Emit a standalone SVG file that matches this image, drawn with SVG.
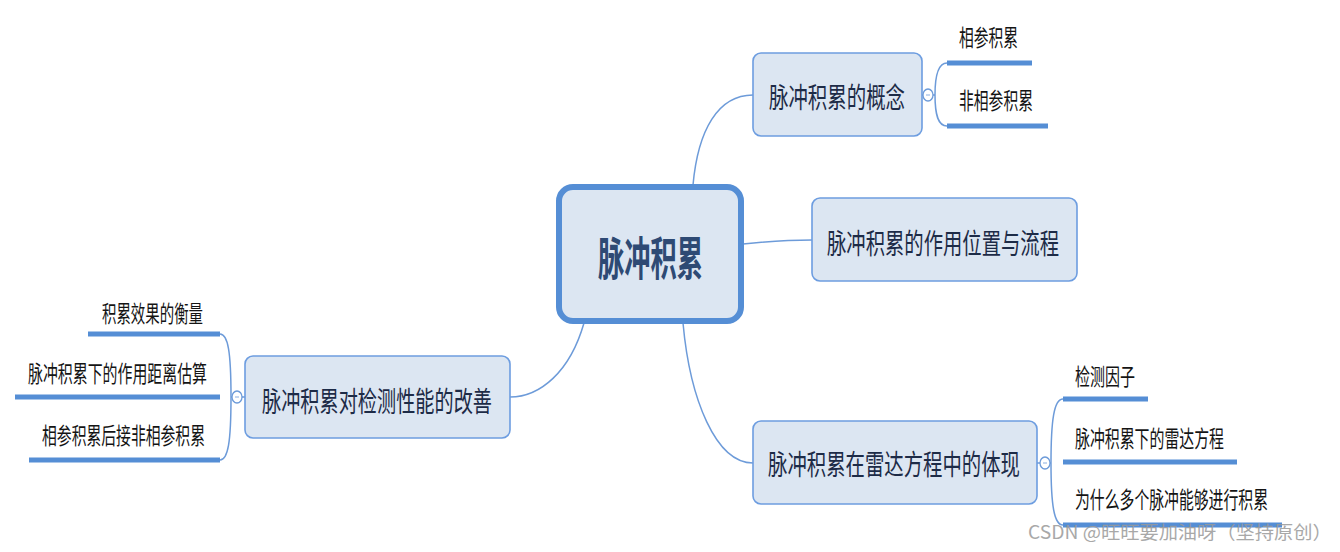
<svg xmlns="http://www.w3.org/2000/svg" width="1340" height="552" viewBox="0 0 1340 552">
<style>
.bg{fill:#ffffff}
.node{fill:#dce6f2;stroke:#6d9de0;stroke-width:1.6}
.root{fill:#dce6f2;stroke:#558ed5;stroke-width:6}
.conn{fill:none;stroke:#6d9bd9;stroke-width:1.5}
.ul{stroke:#558ed5;stroke-width:5}
.tog{fill:#ffffff;stroke:#6d9bd9;stroke-width:1.3}
.dash{stroke:#8aaee0;stroke-width:1}
text{font-family:"Noto Sans CJK SC","Noto Sans",sans-serif}
.rt{font-size:26.25px;font-weight:bold;fill:#2e4a74}
.nt{font-size:19.3px;fill:#1d2b47}
.ct{font-size:14.8px;fill:#141414}
.wm{font-size:18px;fill:#9a9a9a;opacity:0.85}
</style>
<rect class="bg" x="0" y="0" width="1340" height="552"/>
<g id="connectors">
<path class="conn" d="M693,185 C698,130 718,95 753,95"/>
<path class="conn" d="M743,244 C772,241 792,240 812,240"/>
<path class="conn" d="M683,323 C690,400 716,463 753,463"/>
<path class="conn" d="M584,323 C570,372 540,397 510,397"/>
<path class="conn" d="M922,95 L923,95 M933,95 L935,95"/>
<path class="conn" d="M947,63 C938,63 935,75 935,95 C935,115 938,126 947,126"/>
<path class="conn" d="M1037,463 L1040,463 M1050,463 L1051,463"/>
<path class="conn" d="M1063,399 C1054,399 1051,420 1051,463 C1051,505 1054,525 1063,525"/>
<path class="conn" d="M245,397 L242,397 M232,397 L231,397"/>
<path class="conn" d="M220,334 C228,334 231,352 231,397 C231,442 228,460 220,460"/>
</g>
<g id="root">
<rect class="root" x="559" y="187" width="182" height="134" rx="14"/>
<text class="rt" transform="translate(598,275) scale(1,1.75)" x="0" y="0" textLength="105" lengthAdjust="spacingAndGlyphs">脉冲积累</text>
</g>
<g id="n1">
<rect class="node" x="753" y="53" width="169" height="83" rx="8"/>
<text class="nt" transform="translate(769,108) scale(1,1.5)" x="0" y="0" textLength="136" lengthAdjust="spacingAndGlyphs">脉冲积累的概念</text>
<ellipse class="tog" cx="928" cy="95" rx="5" ry="6"/>
<line class="dash" x1="926" y1="95" x2="930" y2="95"/>
</g>
<g id="n1a">
<text class="ct" transform="translate(959,46) scale(1,1.55)" x="0" y="0" textLength="59" lengthAdjust="spacingAndGlyphs">相参积累</text>
<line class="ul" x1="947" y1="63" x2="1032" y2="63"/>
</g>
<g id="n1b">
<text class="ct" transform="translate(959,109) scale(1,1.55)" x="0" y="0" textLength="74" lengthAdjust="spacingAndGlyphs">非相参积累</text>
<line class="ul" x1="947" y1="126" x2="1048" y2="126"/>
</g>
<g id="n2">
<rect class="node" x="812" y="198" width="265" height="83" rx="8"/>
<text class="nt" transform="translate(827,254) scale(1,1.5)" x="0" y="0" textLength="232" lengthAdjust="spacingAndGlyphs">脉冲积累的作用位置与流程</text>
</g>
<g id="n3">
<rect class="node" x="753" y="421" width="284" height="83" rx="8"/>
<text class="nt" transform="translate(768,475) scale(1,1.5)" x="0" y="0" textLength="252" lengthAdjust="spacingAndGlyphs">脉冲积累在雷达方程中的体现</text>
<ellipse class="tog" cx="1045" cy="463" rx="5" ry="6"/>
<line class="dash" x1="1043" y1="463" x2="1047" y2="463"/>
</g>
<g id="n3a">
<text class="ct" transform="translate(1075,385) scale(1,1.55)" x="0" y="0" textLength="60" lengthAdjust="spacingAndGlyphs">检测因子</text>
<line class="ul" x1="1063" y1="399" x2="1148" y2="399"/>
</g>
<g id="n3b">
<text class="ct" transform="translate(1075,447) scale(1,1.55)" x="0" y="0" textLength="149" lengthAdjust="spacingAndGlyphs">脉冲积累下的雷达方程</text>
<line class="ul" x1="1063" y1="462" x2="1237" y2="462"/>
</g>
<g id="n3c">
<text class="ct" transform="translate(1075,508) scale(1,1.55)" x="0" y="0" textLength="193" lengthAdjust="spacingAndGlyphs">为什么多个脉冲能够进行积累</text>
<line class="ul" x1="1063" y1="525" x2="1282" y2="525"/>
</g>
<g id="n4">
<rect class="node" x="245" y="356" width="265" height="82" rx="8"/>
<text class="nt" transform="translate(262,412) scale(1,1.5)" x="0" y="0" textLength="230" lengthAdjust="spacingAndGlyphs">脉冲积累对检测性能的改善</text>
<ellipse class="tog" cx="237" cy="397" rx="5" ry="6"/>
<line class="dash" x1="235" y1="397" x2="239" y2="397"/>
</g>
<g id="n4a">
<text class="ct" transform="translate(102,322) scale(1,1.55)" x="0" y="0" textLength="101" lengthAdjust="spacingAndGlyphs">积累效果的衡量</text>
<line class="ul" x1="88" y1="334" x2="220" y2="334"/>
</g>
<g id="n4b">
<text class="ct" transform="translate(28,382) scale(1,1.55)" x="0" y="0" textLength="179" lengthAdjust="spacingAndGlyphs">脉冲积累下的作用距离估算</text>
<line class="ul" x1="15" y1="397" x2="220" y2="397"/>
</g>
<g id="n4c">
<text class="ct" transform="translate(42,444) scale(1,1.55)" x="0" y="0" textLength="163" lengthAdjust="spacingAndGlyphs">相参积累后接非相参积累</text>
<line class="ul" x1="29" y1="460" x2="220" y2="460"/>
</g>
<text class="wm" transform="translate(1028,539) scale(1.07,1)" x="0" y="0">CSDN @旺旺要加油呀（坚持原创）</text>
</svg>
